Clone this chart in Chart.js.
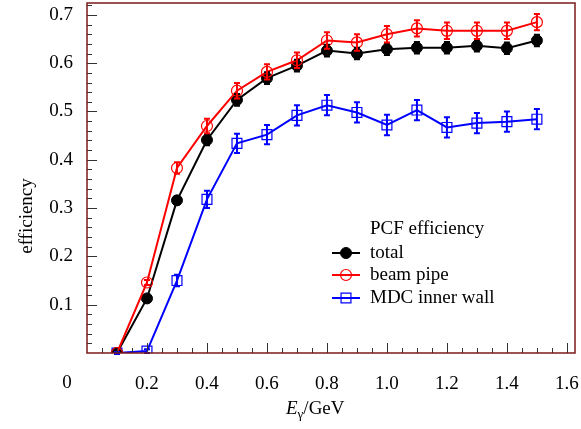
<!DOCTYPE html>
<html>
<head>
<meta charset="utf-8">
<script src="https://cdn.jsdelivr.net/npm/chart.js@4.4.0/dist/chart.umd.min.js"></script>
<style>
  html, body { margin: 0; padding: 0; background: #fff; }
  #wrap { width: 581px; height: 429px; }
</style>
</head>
<body>
<div id="wrap"><canvas id="graficoPCF"></canvas></div>
<script>
// dados
const energias = [0.1, 0.2, 0.3, 0.4, 0.5, 0.6, 0.7, 0.8, 0.9, 1.0, 1.1, 1.2, 1.3, 1.4, 1.5];
const total = [0.0, 0.113, 0.316, 0.441, 0.524, 0.569, 0.595, 0.626, 0.620, 0.629, 0.632, 0.632, 0.636, 0.631, 0.647];
const totalErr = [0.002, 0.004, 0.008, 0.011, 0.012, 0.012, 0.012, 0.012, 0.012, 0.012, 0.012, 0.012, 0.012, 0.012, 0.012];
const beamPipe = [0.0, 0.146, 0.383, 0.470, 0.543, 0.582, 0.606, 0.647, 0.643, 0.660, 0.672, 0.667, 0.667, 0.667, 0.685];
const beamPipeErr = [0.002, 0.005, 0.012, 0.015, 0.016, 0.016, 0.016, 0.017, 0.017, 0.017, 0.017, 0.017, 0.017, 0.017, 0.017];
const mdcWall = [0.0, 0.004, 0.150, 0.318, 0.434, 0.452, 0.492, 0.513, 0.498, 0.472, 0.503, 0.467, 0.476, 0.479, 0.484];
const mdcWallErr = [0.002, 0.004, 0.012, 0.018, 0.02, 0.02, 0.021, 0.021, 0.021, 0.021, 0.021, 0.021, 0.021, 0.021, 0.021];
const nomes = ['total', 'beam pipe', 'MDC inner wall'];
const xTicks = [0, 0.2, 0.4, 0.6, 0.8, 1.0, 1.2, 1.4, 1.6];
const xTickLabels = ['', '0.2', '0.4', '0.6', '0.8', '1.0', '1.2', '1.4', '1.6'];
const yTicks = [0.1, 0.2, 0.3, 0.4, 0.5, 0.6, 0.7];
const yTickLabels = ['0.1', '0.2', '0.3', '0.4', '0.5', '0.6', '0.7'];

const fonte = 'Liberation Serif, Times New Roman, serif';
const erros = [totalErr, beamPipeErr, mdcWallErr];

function pontos(ys) {
    return energias.map((e, i) => ({ x: e, y: ys[i] }));
}

function semMargem(scale) {
    scale.paddingTop = 0;
    scale.paddingBottom = 0;
    scale.paddingLeft = 0;
    scale.paddingRight = 0;
}

// moldura, marcas de escala, barras de erro, legenda e titulos
const extras = {
    id: 'extras',
    afterDatasetsDraw(chart) {
        const ctx = chart.ctx;
        const xs = chart.scales.x, ys = chart.scales.y;
        chart.data.datasets.forEach((ds, d) => {
            ctx.save();
            ctx.strokeStyle = ds.borderColor;
            ctx.lineWidth = 2;
            ds.data.forEach((p, i) => {
                const px = xs.getPixelForValue(p.x);
                const top = ys.getPixelForValue(p.y + erros[d][i]);
                const bot = ys.getPixelForValue(p.y - erros[d][i]);
                ctx.beginPath();
                ctx.moveTo(px, top); ctx.lineTo(px, bot);
                ctx.moveTo(px - 3, top); ctx.lineTo(px + 3, top);
                ctx.moveTo(px - 3, bot); ctx.lineTo(px + 3, bot);
                ctx.stroke();
            });
            ctx.restore();
        });
    },
    afterDraw(chart) {
        const ctx = chart.ctx;
        const a = chart.chartArea;
        const xs = chart.scales.x, ys = chart.scales.y;
        ctx.save();
        // marcas internas
        ctx.strokeStyle = '#333';
        ctx.lineWidth = 1;
        ctx.beginPath();
        for (let k = 1; k <= 32; k++) {
            const v = k * 0.05;
            if (v > xs.max) break;
            const px = Math.round(xs.getPixelForValue(v)) + 0.5;
            const len = (k % 4 === 0) ? 10 : 5;
            ctx.moveTo(px, a.bottom); ctx.lineTo(px, a.bottom - len);
        }
        for (let k = 1; k <= 36; k++) {
            const v = k * 0.02;
            if (v > ys.max) break;
            const py = Math.round(ys.getPixelForValue(v)) + 0.5;
            const len = (k % 5 === 0) ? 10 : 5;
            ctx.moveTo(a.left, py); ctx.lineTo(a.left + len, py);
        }
        ctx.stroke();
        // moldura
        ctx.strokeStyle = '#7a1a1a';
        ctx.lineWidth = 1.5;
        ctx.strokeRect(a.left, a.top, a.right - a.left, a.bottom - a.top);

        // "0" da origem
        ctx.fillStyle = '#000';
        ctx.font = '19px ' + fonte;
        ctx.textAlign = 'center';
        ctx.textBaseline = 'middle';
        ctx.fillText('0', xs.getPixelForValue(0) - 20, 383);

        // titulo do eixo y
        ctx.save();
        ctx.translate(27, 216);
        ctx.rotate(-Math.PI / 2);
        ctx.fillText('efficiency', 0, 0);
        ctx.restore();

        // titulo do eixo x: E_gamma/GeV
        ctx.textAlign = 'left';
        ctx.textBaseline = 'alphabetic';
        let x0 = 286;
        const base = 414;
        ctx.font = 'italic 19px ' + fonte;
        ctx.fillText('E', x0, base);
        x0 += ctx.measureText('E').width;
        ctx.font = '13px ' + fonte;
        ctx.fillText('γ', x0, base + 4);
        x0 += ctx.measureText('γ').width;
        ctx.font = '19px ' + fonte;
        ctx.fillText('/GeV', x0, base);

        // legenda
        ctx.font = '19px ' + fonte;
        ctx.textBaseline = 'middle';
        ctx.fillText('PCF efficiency', 370, 229);
        const linhas = [253, 275, 298];
        chart.data.datasets.forEach((ds, d) => {
            const y = linhas[d];
            ctx.strokeStyle = ds.borderColor;
            ctx.lineWidth = 2;
            ctx.beginPath();
            ctx.moveTo(332, y); ctx.lineTo(360, y);
            ctx.stroke();
            ctx.fillStyle = ds.pointBackgroundColor;
            ctx.lineWidth = ds.pointBorderWidth;
            ctx.beginPath();
            if (ds.pointStyle === 'circle') {
                ctx.arc(346, y, ds.pointRadius, 0, Math.PI * 2);
            } else {
                const s = Math.SQRT1_2 * ds.pointRadius;
                ctx.rect(346 - s, y - s, 2 * s, 2 * s);
            }
            ctx.fill();
            ctx.stroke();
            ctx.fillStyle = '#000';
            ctx.fillText(nomes[d], 370, y);
        });
        ctx.restore();
    }
};

const ctx = document.getElementById('graficoPCF');

new Chart(ctx, {
    type: 'line',
    data: {
        datasets: [{
            label: nomes[0],
            data: pontos(total),
            borderColor: '#000000',
            backgroundColor: '#000000',
            pointBackgroundColor: '#000000',
            pointStyle: 'circle',
            pointRadius: 5.5,
            pointBorderWidth: 1,
            borderWidth: 2,
            order: 2
        }, {
            label: nomes[1],
            data: pontos(beamPipe),
            borderColor: '#ff0000',
            backgroundColor: 'rgba(0,0,0,0)',
            pointBackgroundColor: 'rgba(0,0,0,0)',
            pointStyle: 'circle',
            pointRadius: 5.5,
            pointBorderWidth: 1.2,
            borderWidth: 2,
            order: 1
        }, {
            label: nomes[2],
            data: pontos(mdcWall),
            borderColor: '#0000ff',
            backgroundColor: 'rgba(0,0,0,0)',
            pointBackgroundColor: 'rgba(0,0,0,0)',
            pointStyle: 'rect',
            pointRadius: 7,
            pointBorderWidth: 1.2,
            borderWidth: 2,
            order: 3
        }]
    },
    options: {
        responsive: true,
        maintainAspectRatio: false,
        animation: false,
        layout: { autoPadding: false, padding: { top: 3, right: 6, left: 0, bottom: 0 } },
        plugins: {
            legend: { display: false },
            tooltip: { enabled: false }
        },
        scales: {
            x: {
                type: 'linear',
                min: 0,
                max: 1.627,
                grid: { display: false, drawTicks: false },
                border: { display: false },
                afterBuildTicks(scale) {
                    scale.ticks = xTicks.map(v => ({ value: v }));
                },
                afterFit(scale) { scale.height = 76; semMargem(scale); },
                ticks: {
                    autoSkip: false,
                    maxRotation: 0,
                    padding: 20,
                    color: '#000',
                    font: { family: fonte, size: 19 },
                    callback: (v) => xTickLabels[xTicks.findIndex(t => Math.abs(t - v) < 1e-6)]
                }
            },
            y: {
                type: 'linear',
                min: 0,
                max: 0.7246,
                grid: { display: false, drawTicks: false },
                border: { display: false },
                afterBuildTicks(scale) {
                    scale.ticks = yTicks.map(v => ({ value: v }));
                },
                afterFit(scale) { scale.width = 87; semMargem(scale); },
                ticks: {
                    autoSkip: false,
                    padding: 14,
                    color: '#000',
                    font: { family: fonte, size: 19 },
                    callback: (v) => yTickLabels[yTicks.findIndex(t => Math.abs(t - v) < 1e-6)]
                }
            }
        }
    },
    plugins: [extras]
});
</script>
</body>
</html>
